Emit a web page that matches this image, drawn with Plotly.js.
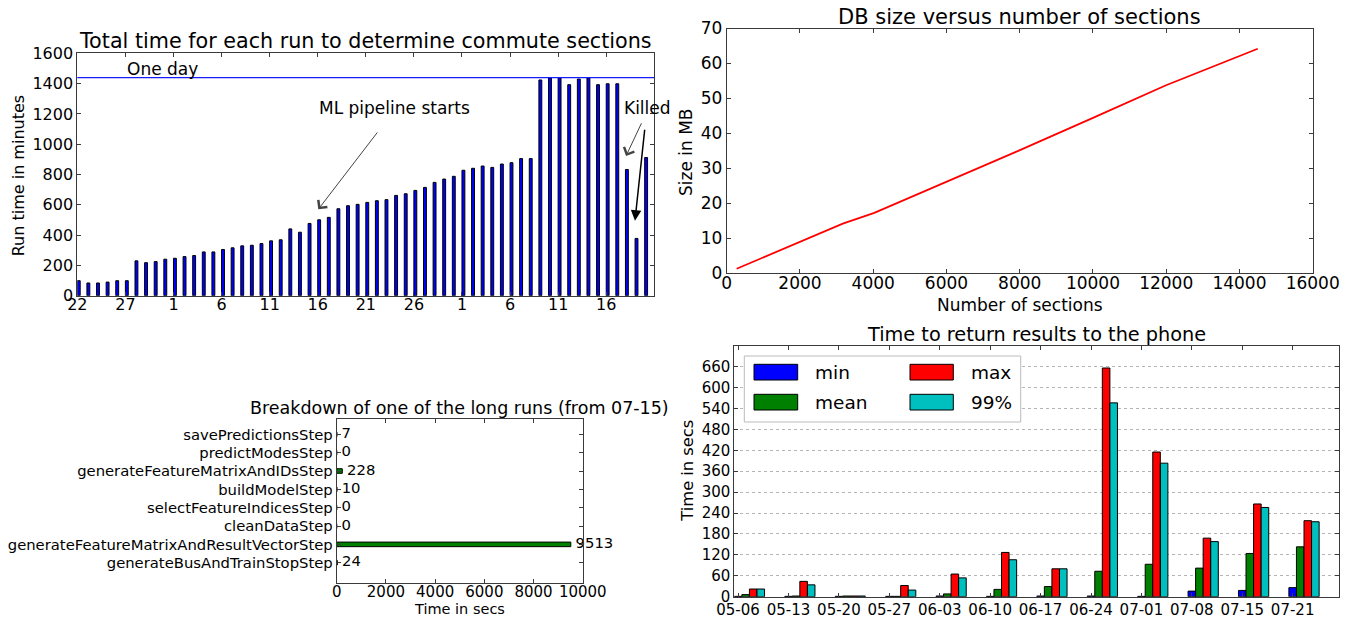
<!DOCTYPE html>
<html>
<head>
<meta charset="utf-8">
<script src="https://cdn.plot.ly/plotly-3.0.1.min.js"></script>
<style>
html,body{margin:0;padding:0;background:#fff;}
#chart{width:1351px;height:619px;}
</style>
</head>
<body>
<div id="chart"></div>
<script>
// ================= DATA =================
// Top-left: total run time per daily run (minutes)
const runDates = [
  '05-22','05-23','05-24','05-25','05-26','05-27','05-28','05-29','05-30','05-31',
  '06-01','06-02','06-03','06-04','06-05','06-06','06-07','06-08','06-09','06-10',
  '06-11','06-12','06-13','06-14','06-15','06-16','06-17','06-18','06-19','06-20',
  '06-21','06-22','06-23','06-24','06-25','06-26','06-27','06-28','06-29','06-30',
  '07-01','07-02','07-03','07-04','07-05','07-06','07-07','07-08','07-09','07-10',
  '07-11','07-12','07-13','07-14','07-15','07-16','07-17','07-18','07-19','07-20'
];
const runMinutes = [
  99, 84, 84, 90, 99, 99, 230, 218, 225, 241,
  247, 258, 265, 289, 289, 305, 316, 329, 333, 344,
  362, 369, 441, 419, 477, 501, 517, 574, 594, 603,
  616, 627, 634, 662, 673, 695, 715, 748, 770, 788,
  828, 841, 856, 847, 869, 878, 905, 905, 1424, 1437,
  1437, 1393, 1430, 1437, 1393, 1399, 1399, 833, 378, 912
];
const runTickDates = ['05-22','05-27','06-01','06-06','06-11','06-16','06-21','06-26','07-01','07-06','07-11','07-16'];
const runTickLabels = ['22','27','1','6','11','16','21','26','1','6','11','16'];
const ONE_DAY_MINUTES = 1440;

// Top-right: DB size vs number of sections
const sections = [272, 3170, 4030, 6000, 7960, 9970, 11980, 14500];
const sizeMB   = [1.3, 14.2, 17.3, 26.1, 35.0, 44.3, 53.7, 64.2];

// Bottom-left: breakdown of one long run (seconds)
const stepNames = [
  'generateBusAndTrainStopStep',
  'generateFeatureMatrixAndResultVectorStep',
  'cleanDataStep',
  'selectFeatureIndicesStep',
  'buildModelStep',
  'generateFeatureMatrixAndIDsStep',
  'predictModesStep',
  'savePredictionsStep'
];
const stepSecs = [24, 9513, 0, 0, 10, 228, 0, 7];

// Bottom-right: time to return results to the phone (seconds)
const weeks = ['05-06','05-13','05-20','05-27','06-03','06-10','06-17','06-24','07-01','07-08','07-15','07-21'];
const minSecs  = [1, 1, 1, 1, 2, 1, 2, 2, 1, 16, 18, 26];
const meanSecs = [6, 2, 2, 1, 8, 21, 29, 73, 93, 82, 124, 143];
const maxSecs  = [22, 44, 2, 32, 65, 127, 80, 656, 415, 168, 266, 218];
const p99Secs  = [22, 34, 2, 19, 54, 106, 80, 556, 383, 158, 256, 215];
const phoneTicks = [0, 60, 120, 180, 240, 300, 360, 420, 480, 540, 600, 660];

// ================= STYLE / LAYOUT =================
const W = 1351, H = 619;
const FRAME = '#3a3a3a';
const FONT = 'DejaVu Sans';
const px = v => v / W;
const py = v => 1 - v / H;

function ax(extra) {
  return Object.assign({
    showline: true, linecolor: FRAME, linewidth: 1, mirror: 'ticks',
    ticks: 'inside', ticklen: 4, tickcolor: FRAME, tickwidth: 1,
    showgrid: false, zeroline: false, fixedrange: true,
    exponentformat: 'none',
    tickfont: {family: FONT, size: 16, color: '#000'}
  }, extra);
}

const BW = 0.15; // grouped bar width (bottom-right)

const traces = [
  {
    type: 'bar', x: runDates, y: runMinutes, xaxis: 'x', yaxis: 'y',
    width: 0.3, offset: 0,
    marker: {color: '#0000ff', line: {color: '#000', width: 1}},
    hoverinfo: 'x+y'
  },
  {
    type: 'scatter', mode: 'lines', x: sections, y: sizeMB, xaxis: 'x2', yaxis: 'y2',
    line: {color: '#ff0000', width: 1.8}
  },
  {
    type: 'bar', orientation: 'h', x: stepSecs, y: stepNames, xaxis: 'x3', yaxis: 'y3',
    width: 0.25,
    marker: {color: '#008000', line: {color: '#000', width: 1}}
  },
  {
    type: 'scatter', mode: 'markers+text', x: stepSecs, y: stepNames, xaxis: 'x3', yaxis: 'y3',
    text: stepSecs.map(String), textposition: 'middle right', cliponaxis: false,
    marker: {size: 6, color: 'rgba(0,0,0,0)'},
    textfont: {family: FONT, size: 14.8, color: '#000'}, hoverinfo: 'skip'
  },
  {
    type: 'bar', name: 'min', x: weeks, y: minSecs, xaxis: 'x4', yaxis: 'y4',
    width: BW, offset: -BW/2,
    marker: {color: '#0000ff', line: {color: '#000', width: 1}}
  },
  {
    type: 'bar', name: 'mean', x: weeks, y: meanSecs, xaxis: 'x4', yaxis: 'y4',
    width: BW, offset: BW/2,
    marker: {color: '#008000', line: {color: '#000', width: 1}}
  },
  {
    type: 'bar', name: 'max', x: weeks, y: maxSecs, xaxis: 'x4', yaxis: 'y4',
    width: BW, offset: 3*BW/2,
    marker: {color: '#ff0000', line: {color: '#000', width: 1}}
  },
  {
    type: 'bar', name: '99%', x: weeks, y: p99Secs, xaxis: 'x4', yaxis: 'y4',
    width: BW, offset: 5*BW/2,
    marker: {color: '#00bfbf', line: {color: '#000', width: 1}}
  }
];

function txt(text, xpx, ypx, size, extra) {
  return Object.assign({
    text: text, x: px(xpx), y: py(ypx), xref: 'paper', yref: 'paper',
    xanchor: 'center', yanchor: 'middle', showarrow: false,
    font: {family: FONT, size: size, color: '#000'}
  }, extra || {});
}

const annotations = [
  // subplot titles
  txt('Total time for each run to determine commute sections', 365.8, 41, 20.7),
  txt('DB size versus number of sections', 1019.7, 17, 21),
  txt('Breakdown of one of the long runs (from 07-15)', 459.7, 408, 17.5),
  txt('Time to return results to the phone', 1036.8, 334, 19.3),
  // axis titles
  txt('Run time in minutes', 18.3, 176, 16, {textangle: -90}),
  txt('Size in MB', 686, 152, 17, {textangle: -90}),
  txt('Number of sections', 1019.7, 305, 17),
  txt('Time in secs', 459.7, 609, 14.5),
  txt('Time in secs', 686.7, 471, 16.3, {textangle: -90}),
  // top-left annotations
  {text: 'One day', x: 5, y: 1496, xref: 'x', yref: 'y', xanchor: 'left', yanchor: 'middle',
   showarrow: false, font: {family: FONT, size: 17, color: '#000'}},
  {text: 'ML pipeline starts', x: 32.95, y: 1237, xref: 'x', yref: 'y', xanchor: 'center', yanchor: 'middle',
   showarrow: false, font: {family: FONT, size: 17, color: '#000'}},
  {text: ' ', x: 25.06, y: 570, ax: 31.40, ay: 1094, xref: 'x', yref: 'y', axref: 'x', ayref: 'y',
   showarrow: true, arrowhead: 4, arrowsize: 2.2, arrowwidth: 1, arrowcolor: '#444', startstandoff: 0,
   font: {size: 2}},
  {text: 'Killed', x: 59.29, y: 1237, xref: 'x', yref: 'y', xanchor: 'center', yanchor: 'middle',
   showarrow: false, font: {family: FONT, size: 17, color: '#000'}},
  {text: ' ', x: 57.06, y: 922, ax: 58.79, ay: 1155, xref: 'x', yref: 'y', axref: 'x', ayref: 'y',
   showarrow: true, arrowhead: 4, arrowsize: 2.2, arrowwidth: 1, arrowcolor: '#444', startstandoff: 0,
   font: {size: 2}},
  {text: ' ', x: 57.99, y: 495, ax: 59.03, ay: 1112, xref: 'x', yref: 'y', axref: 'x', ayref: 'y',
   showarrow: true, arrowhead: 2, arrowsize: 1.4, arrowwidth: 1.5, arrowcolor: '#000', startstandoff: 0,
   font: {size: 2}},
  // custom legend labels (bottom-right)
  txt('min', 813.3, 372, 18.5, {xanchor: 'left'}),
  txt('mean', 813.3, 402, 18.5, {xanchor: 'left'}),
  txt('max', 969.3, 372, 18.5, {xanchor: 'left'}),
  txt('99%', 969.3, 402, 18.5, {xanchor: 'left'})
];

function rectPx(x0, y0, x1, y1, fill, lineColor) {
  return {type: 'rect', xref: 'paper', yref: 'paper',
    x0: px(x0), x1: px(x1), y0: py(y1), y1: py(y0),
    fillcolor: fill, line: {color: lineColor, width: 1}, layer: 'above'};
}

const shapes = [
  {type: 'line', xref: 'x domain', yref: 'y', x0: 0, x1: 1, y0: ONE_DAY_MINUTES, y1: ONE_DAY_MINUTES,
   line: {color: '#1a1aff', width: 1.2}},
  // legend box + swatches
  rectPx(744.3, 356, 1020.7, 422, '#ffffff', '#bbbbbb'),
  rectPx(754, 364.3, 797.7, 380, '#0000ff', '#000'),
  rectPx(754, 394.3, 797.7, 410, '#008000', '#000'),
  rectPx(910, 364.3, 953.3, 380, '#ff0000', '#000'),
  rectPx(910, 394.3, 953.3, 410, '#00bfbf', '#000')
];

const layout = {
  width: W, height: H,
  margin: {l: 0, r: 0, t: 0, b: 0},
  paper_bgcolor: '#ffffff', plot_bgcolor: '#ffffff',
  font: {family: FONT, color: '#000'},
  showlegend: false,
  barmode: 'overlay',
  xaxis: ax({domain: [px(77.3), px(654.3)], anchor: 'y', type: 'category',
    range: [0, 60], tickmode: 'array', tickvals: runTickDates, ticktext: runTickLabels,
    ticklabelstandoff: -6}),
  yaxis: ax({domain: [py(295.7), py(53.3)], anchor: 'x', range: [0, 1600], dtick: 200, tickformat: 'd'}),
  xaxis2: ax({domain: [px(726.7), px(1312.7)], anchor: 'y2', range: [0, 16000], dtick: 2000,
    tickformat: 'd', ticklabelstandoff: -6, tickfont: {family: FONT, size: 17, color: '#000'}}),
  yaxis2: ax({domain: [py(273.3), py(28.5)], anchor: 'x2', range: [0, 70], dtick: 10,
    tickformat: 'd', tickfont: {family: FONT, size: 17, color: '#000'}}),
  xaxis3: ax({domain: [px(336.7), px(582.8)], anchor: 'y3', range: [0, 10000], dtick: 2000,
    tickformat: 'd', ticklabelstandoff: -5, tickfont: {family: FONT, size: 15, color: '#000'}}),
  yaxis3: ax({domain: [py(582.7), py(419.3)], anchor: 'x3', type: 'category',
    range: [-1.09, 7.82], tickfont: {family: FONT, size: 14.8, color: '#000'}}),
  xaxis4: ax({domain: [px(734.3), px(1339.3)], anchor: 'y4', type: 'category',
    range: [-BW/2, 12 - BW/2], ticklabelstandoff: -1,
    tickfont: {family: FONT, size: 15, color: '#000'}}),
  yaxis4: ax({domain: [py(596.7), py(345.7)], anchor: 'x4', range: [0, 720],
    tickmode: 'array', tickvals: phoneTicks, tickformat: 'd',
    showgrid: true, gridcolor: '#b5b5b5', griddash: 'dot', gridwidth: 1,
    tickfont: {family: FONT, size: 15, color: '#000'}}),
  annotations: annotations,
  shapes: shapes
};

Plotly.newPlot('chart', traces, layout, {displayModeBar: false, staticPlot: true});
</script>
</body>
</html>
